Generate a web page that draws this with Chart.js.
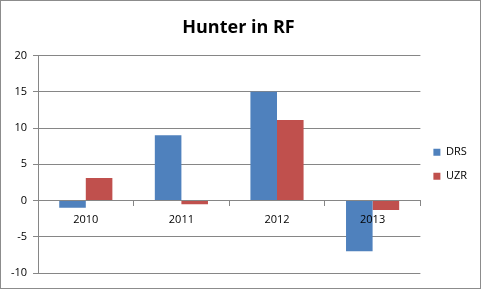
<!DOCTYPE html>
<html>
<head>
<meta charset="utf-8">
<script src="https://cdn.jsdelivr.net/npm/chart.js@4/dist/chart.umd.min.js"></script>
<style>
  html, body { margin: 0; padding: 0; background: #fff; }
  #wrap { position: relative; width: 483px; height: 290px; }
  #frame { position: absolute; left: 0; top: 0; width: 481px; height: 289px; box-sizing: border-box; border: 1px solid #8c8c8c; pointer-events: none; }
  canvas { position: absolute; left: 0; top: 0; }
</style>
</head>
<body>
<div id="wrap">
  <canvas id="chart" width="483" height="290"></canvas>
  <div id="frame"></div>
</div>
<script>
  const seasons = ['2010', '2011', '2012', '2013'];
  const drs = [-1, 9, 15, -7];
  const uzr = [3.1, -0.5, 11.1, -1.3];
  const yMin = -10, yMax = 20, yStep = 5;

  const gridGray = '#868686';
  const font = { family: "'Open Sans', sans-serif", size: 11 };

  new Chart(document.getElementById('chart'), {
    type: 'bar',
    data: {
      labels: seasons,
      datasets: [
        { label: 'DRS', data: drs, backgroundColor: '#4f81bd' },
        { label: 'UZR', data: uzr, backgroundColor: '#c0504d' }
      ]
    },
    options: {
      responsive: false,
      animation: false,
      categoryPercentage: 0.556,
      barPercentage: 1,
      layout: { padding: { left: 0, right: 6, top: 0, bottom: 17 } },
      plugins: {
        title: {
          display: true,
          text: 'Hunter in RF',
          color: '#000',
          font: { family: "'Open Sans', sans-serif", size: 18, weight: 'bold' },
          padding: { top: 17, bottom: 17 }
        },
        legend: {
          position: 'right',
          fullSize: false,
          labels: {
            boxWidth: 7, boxHeight: 7, padding: 13,
            color: '#000', font: font
          }
        },
        tooltip: { enabled: false }
      },
      scales: {
        x: {
          position: { y: 0 },
          grid: { drawOnChartArea: false, drawTicks: true, tickLength: 5, color: gridGray, offset: true },
          border: { display: true, color: gridGray, z: 1 },
          ticks: { color: '#000', font: font, padding: 8, z: 1 }
        },
        y: {
          min: yMin, max: yMax,
          afterFit: s => { s.width = 38; },
          grid: { color: gridGray, tickLength: 5 },
          border: { display: true, color: gridGray },
          ticks: { stepSize: yStep, color: '#000', font: font, padding: 6 }
        }
      }
    }
  });
</script>
</body>
</html>
